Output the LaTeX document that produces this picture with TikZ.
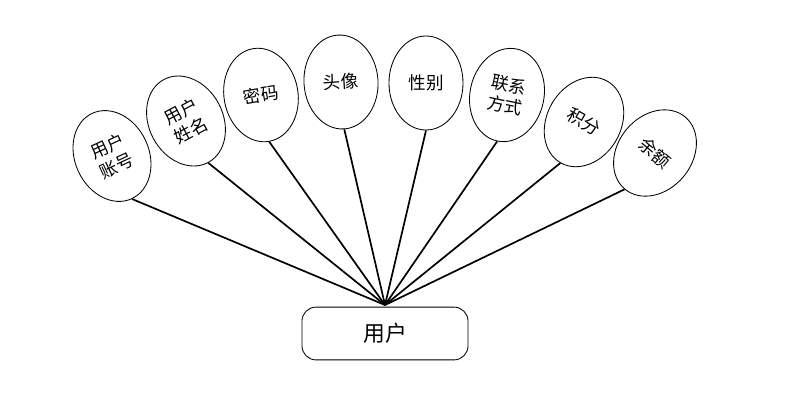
\documentclass[tikz,border=0pt]{standalone}
\usepackage{fontspec}
\newfontfamily\cjk{Noto Sans CJK SC}
\usetikzlibrary{shapes.geometric}

\begin{document}
\begin{tikzpicture}[
    x=0.025cm, y=-0.025cm,
    attr/.style={draw, line width=0.6pt, ellipse, inner sep=0pt, minimum width=1.85cm, minimum height=2.35cm, align=center, font=\cjk\fontsize{12.5}{15}\selectfont},
    ent/.style={draw, line width=0.6pt, rounded corners=10pt, minimum width=4.15cm, minimum height=1.32cm, font=\cjk\fontsize{15.5}{18}\selectfont},
    lnk/.style={line width=1.2pt}
]
\useasboundingbox (0,0) rectangle (812,404);
\node[ent] (user) at (385,333.5) {用户};
\coordinate (hub) at (385,305);
\node[attr, rotate=25] (acct) at (112,156) {用户\\账号};
\node[attr, rotate=28] (name) at (186,121) {用户\\姓名};
\node[attr, rotate=10] (pwd) at (261,95) {密码};
\node[attr, rotate=4] (avatar) at (341,82) {头像};
\node[attr] (sex) at (426,83) {性别};
\node[attr, rotate=-12] (contact) at (507,95) {联系\\方式};
\node[attr, rotate=-30] (points) at (584,122) {积分};
\node[attr, rotate=-40] (bal) at (655,153) {余额};

\foreach \a in {acct,name,pwd,avatar,sex,contact,points,bal}
    \draw[lnk] (hub) -- (\a.south);
\end{tikzpicture}
\end{document}
